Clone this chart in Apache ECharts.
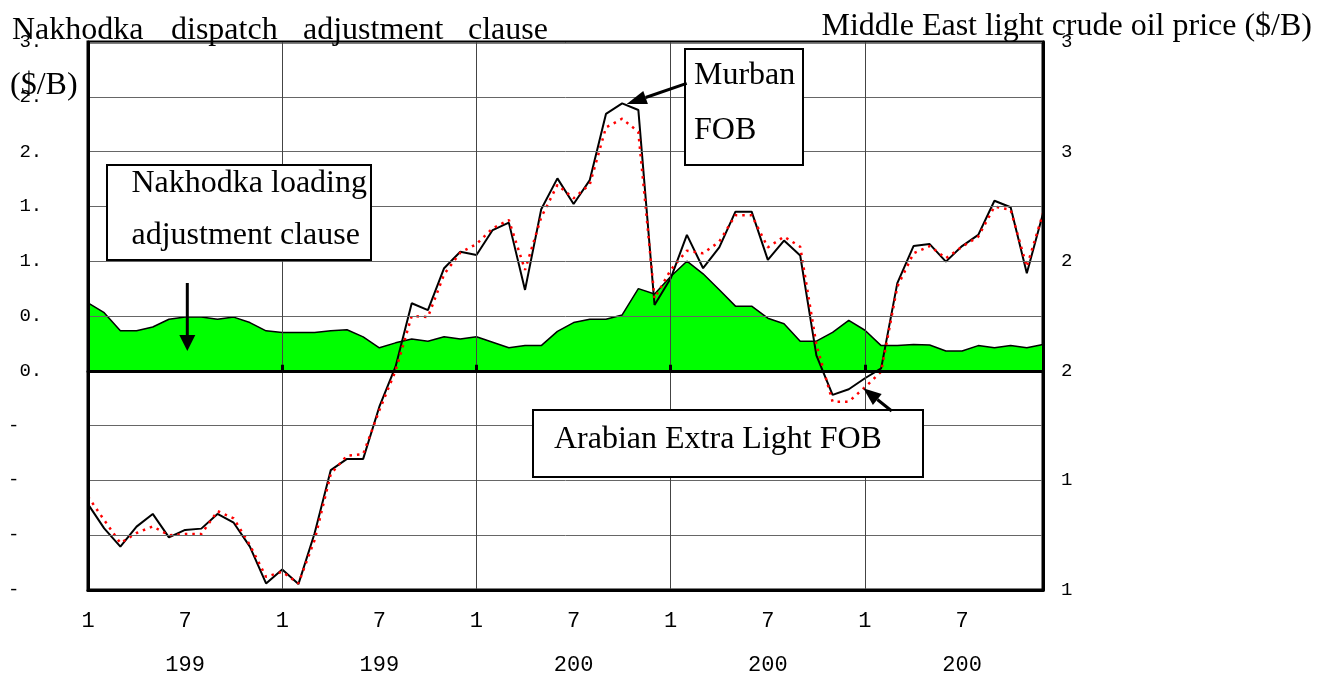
<!DOCTYPE html>
<html><head><meta charset="utf-8">
<script src="https://cdn.jsdelivr.net/npm/echarts@6/dist/echarts.min.js"></script>
<style>html,body{margin:0;padding:0;background:#fff}#c{width:1329px;height:677px}</style>
</head><body><div id="c"></div>
<script>
const years = ['1998','1999','2000','2001','2002'];
const yearTickLabels = ['199','199','200','200','200'];
const monthTickLabels = ['1','7'];
const leftTickLabels = [' 3.',' 2.',' 2.',' 1.',' 1.',' 0.',' 0.','-','-','-','-'];
const rightTickLabels = ['3','3','2','2','1','1'];

// Nakhodka loading adjustment clause ($/B, left axis)
const nakhodkaLoading = [
  0.62,0.53,0.365,0.365,0.40,0.47,0.49,0.49,0.47,0.49,0.44,0.365,
  0.35,0.35,0.35,0.365,0.374,0.31,0.21,0.255,0.29,0.27,0.31,0.29,
  0.31,0.26,0.21,0.23,0.23,0.36,0.44,0.47,0.47,0.51,0.75,0.70,
  0.86,1.00,0.885,0.74,0.59,0.59,0.48,0.43,0.27,0.27,0.35,0.46,
  0.37,0.23,0.23,0.24,0.235,0.18,0.18,0.23,0.21,0.23,0.21,0.24
];
// Murban FOB ($/B, right axis)
const murbanFOB = [
  13.92,12.81,11.98,12.89,13.47,12.40,12.74,12.80,13.47,13.07,11.98,10.30,
  10.94,10.27,12.59,15.47,15.98,15.98,18.36,20.19,23.08,22.77,24.68,25.43,
  25.28,26.42,26.76,23.69,27.37,28.78,27.61,28.70,31.72,32.20,31.90,23.00,
  24.22,26.20,24.68,25.63,27.26,27.26,25.06,25.94,25.26,20.70,18.90,19.16,
  19.66,20.11,24.00,25.69,25.78,24.98,25.69,26.20,27.76,27.46,24.45,27.18
];
// Arabian Extra Light FOB ($/B, right axis)
const arabianExtraLightFOB = [
  14.26,13.19,12.14,12.60,12.90,12.50,12.55,12.55,13.60,13.27,12.05,10.60,
  10.83,10.30,12.28,15.30,16.13,16.20,18.20,20.00,22.50,22.45,24.40,25.39,
  25.78,26.50,26.88,24.60,27.00,28.48,27.87,28.50,31.10,31.50,30.90,23.30,
  24.60,25.48,25.36,25.89,27.10,27.10,25.63,26.12,25.66,21.20,18.59,18.59,
  19.25,19.96,23.84,25.36,25.69,25.13,25.66,26.12,27.49,27.34,24.75,27.18
];

const categories = [];
years.forEach(y => { for (let m = 1; m <= 12; m++) categories.push(y + '/' + m); });

const SERIF = '"Liberation Serif","Times New Roman",serif';
const MONO = '"Liberation Mono","Courier New",monospace';
const FS = 32;

function txt(x, y, s, align) {
  return { type: 'text', x: x, y: y, z: 100,
    style: { text: s, font: FS + 'px ' + SERIF, fill: '#000', align: align || 'left', verticalAlign: 'middle' } };
}
function box(x, y, w, h) {
  return { type: 'rect', z: 99, shape: { x: x, y: y, width: w, height: h },
    style: { fill: '#fff', stroke: '#000', lineWidth: 2 } };
}
function line(x1, y1, x2, y2) {
  return { type: 'line', z: 100, shape: { x1: x1, y1: y1, x2: x2, y2: y2 },
    style: { stroke: '#000', lineWidth: 3 } };
}
function head(pts) {
  return { type: 'polygon', z: 100, shape: { points: pts }, style: { fill: '#000' } };
}

const chart = echarts.init(document.getElementById('c'), null, { renderer: 'canvas' });
chart.setOption({
  animation: false,
  backgroundColor: '#fff',
  grid: { left: 88, right: 286, top: 42, bottom: 87, outerBoundsMode: 'none', containLabel: false,
    show: true, borderColor: '#000', borderWidth: 3, backgroundColor: 'transparent' },
  xAxis: [
    {
      type: 'category', data: categories, boundaryGap: false, position: 'bottom',
      axisLine: { show: true, onZero: false, lineStyle: { color: '#000', width: 3 } },
      axisTick: { show: false },
      axisLabel: {
        interval: (i) => i % 6 === 0,
        margin: 9,
        fontFamily: MONO, fontSize: 22, color: '#000', lineHeight: 44,
        formatter: (v, i) => (i % 12 === 0 ? monthTickLabels[0] : monthTickLabels[1] + '\n' + yearTickLabels[Math.floor(i / 12)])
      },
      splitLine: { show: true, interval: (i) => i % 12 === 0, lineStyle: { color: '#444', width: 1 } },
      z: 5
    },
    {
      type: 'category', data: categories, boundaryGap: false, position: 'top',
      axisLine: { show: true, onZero: true, onZeroAxisIndex: 0, lineStyle: { color: '#000', width: 3 } },
      axisTick: { show: true, interval: (i) => i % 12 === 0, length: 6, lineStyle: { color: '#000', width: 3 } },
      axisLabel: { show: false },
      splitLine: { show: false },
      z: 5
    }
  ],
  yAxis: [
    {
      type: 'value', min: -2, max: 3, interval: 0.5, position: 'left',
      axisLine: { show: true, onZero: false, lineStyle: { color: '#000', width: 3 } },
      axisTick: { show: false },
      axisLabel: {
        align: 'left', margin: 80, fontFamily: MONO, fontSize: 19, color: '#000',
        formatter: (v) => leftTickLabels[Math.round((3 - v) / 0.5)]
      },
      splitLine: { show: true, lineStyle: { color: '#666', width: 1 } },
      z: 5
    },
    {
      type: 'value', min: 10, max: 35, interval: 5, position: 'right',
      axisLine: { show: true, onZero: false, lineStyle: { color: '#000', width: 3 } },
      axisTick: { show: false },
      axisLabel: {
        margin: 18, fontFamily: MONO, fontSize: 19, color: '#000',
        formatter: (v) => rightTickLabels[Math.round((35 - v) / 5)]
      },
      splitLine: { show: false },
      z: 5
    }
  ],
  series: [
    {
      name: 'Nakhodka loading adjustment clause', type: 'line', xAxisIndex: 0, yAxisIndex: 0,
      data: nakhodkaLoading, symbol: 'none', smooth: false,
      lineStyle: { color: '#000', width: 1.5 },
      areaStyle: { color: '#00ff00', opacity: 1 },
      z: 2
    },
    {
      name: 'Murban FOB', type: 'line', xAxisIndex: 0, yAxisIndex: 1,
      data: murbanFOB, symbol: 'none',
      lineStyle: { color: '#000', width: 2 },
      z: 3
    },
    {
      name: 'Arabian Extra Light FOB', type: 'line', xAxisIndex: 0, yAxisIndex: 1,
      data: arabianExtraLightFOB, symbol: 'none',
      lineStyle: { color: '#ff0000', width: 2.5, type: [2.5, 5] },
      z: 4
    }
  ],
  graphic: [
    // titles
    txt(12, 31, 'Nakhodka'),
    txt(171, 31, 'dispatch'),
    txt(303, 31, 'adjustment'),
    txt(468, 31, 'clause'),
    txt(10, 86, '($/B)'),
    txt(1312, 27, 'Middle East light crude oil price ($/B)', 'right'),
    // Nakhodka loading adjustment clause box
    box(107, 165, 264, 95),
    txt(131.5, 183.6, 'Nakhodka loading'),
    txt(131.5, 236, 'adjustment clause'),
    line(187.3, 283, 187.3, 337),
    head([[179.3, 335], [195.3, 335], [187.3, 351]]),
    // Murban FOB box
    box(685, 49, 118, 116),
    txt(694, 76, 'Murban'),
    txt(694, 131, 'FOB'),
    line(686.7, 83.3, 645.6, 97.5),
    head([[626.7, 104], [647.9, 104.1], [643.3, 90.9]]),
    // Arabian Extra Light FOB box
    box(533, 410, 390, 67),
    txt(554, 439.5, 'Arabian Extra Light FOB'),
    line(891.7, 411, 877.3, 399.5),
    head([[863.3, 388.3], [881.7, 394], [872.9, 405]])
  ]
});
</script>
</body></html>
